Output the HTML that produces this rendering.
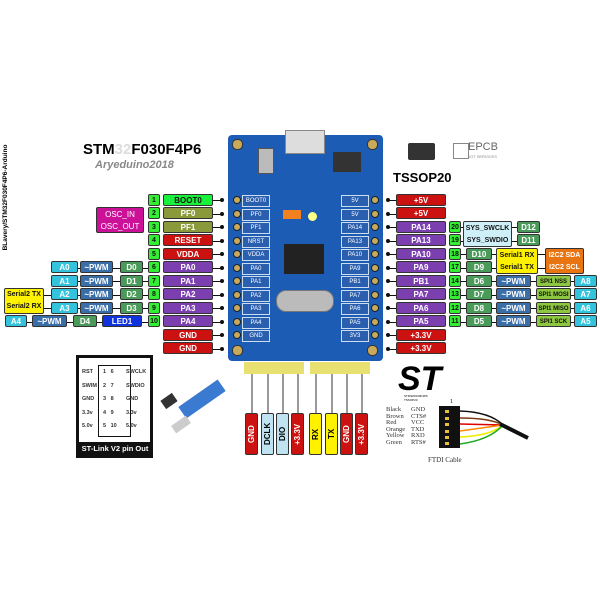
<!DOCTYPE html>
<html><head><style>
body{margin:0;background:#fff}
#c{position:relative;width:600px;height:600px;overflow:hidden;font-family:"Liberation Sans",sans-serif}
.b{position:absolute;z-index:2;height:12px;line-height:12px;font-size:8px;font-weight:bold;text-align:center;color:#fff;border:1px solid #333;border-radius:2px;box-sizing:border-box;white-space:nowrap}
.n{background:#33ee33;color:#111;width:12px;font-size:7px}
.l{left:163px;width:50px}
.r{left:396px;width:50px}
.g{background:#19f03c;color:#111}.o{background:#8a9a3a}.rd{background:#cc1111}.p{background:#7b3fb0}
.a{background:#33c3dd}.pw{background:#3a6ea8}.d{background:#4a9a5a}.sp{background:#8dc63f;color:#111}
.dot{position:absolute;z-index:3;width:4px;height:4px;border-radius:2px;background:#111}
.ln{position:absolute;z-index:1;height:1px;background:#111}
.h{position:absolute;width:9px;height:9px;border-radius:5px;background:#c9a95a;border:1px solid #333}
.hc{position:absolute;width:6px;height:6px;border-radius:4px;background:#c9a95a;border:1px solid #123}
.v{position:absolute;width:13px;height:42px;border:1px solid #333;box-sizing:border-box;border-radius:2px;font-size:8px;font-weight:bold;writing-mode:vertical-rl;transform:rotate(180deg);text-align:center;line-height:11px}
.pin{position:absolute;width:2px;background:#999}
.sm{position:absolute;font-size:6px;color:#fff;background:#2a5fb0;border:1px solid #cde;width:26px;height:10px;line-height:10px;text-align:center}
</style></head><body><div id="c">

<div style="position:absolute;left:83px;top:141px;font-size:15px;font-weight:bold">STM<span style="color:#ddd">32</span>F030F4P6</div>
<div style="position:absolute;left:95px;top:159px;font-size:11px;font-weight:bold;color:#888;font-style:italic">Aryeduino2018</div>
<div style="position:absolute;left:-62px;top:194px;width:135px;font-size:6.5px;font-weight:bold;transform:rotate(-90deg);text-align:center">BLavery/STM32F030F4P6-Arduino</div>

<div style="position:absolute;left:228px;top:135px;width:155px;height:226px;background:#1d5cb5;border-radius:4px"></div>
<div style="position:absolute;left:285px;top:130px;width:38px;height:22px;background:#ddd;border:1px solid #888"></div>
<div style="position:absolute;left:258px;top:148px;width:14px;height:24px;background:#bbb;border:1px solid #555"></div>
<div style="position:absolute;left:333px;top:152px;width:28px;height:20px;background:#333"></div>
<div style="position:absolute;left:284px;top:244px;width:40px;height:30px;background:#222"></div>
<div style="position:absolute;left:276px;top:290px;width:56px;height:20px;background:#bbb;border-radius:10px;border:1px solid #777"></div>
<div style="position:absolute;left:283px;top:210px;width:18px;height:9px;background:#f08020"></div>
<div style="position:absolute;left:308px;top:212px;width:9px;height:9px;background:#ff8;border-radius:5px"></div>
<div class="h" style="left:232px;top:139px"></div><div class="h" style="left:367px;top:139px"></div>
<div class="h" style="left:232px;top:345px"></div><div class="h" style="left:367px;top:345px"></div>
<div class="hc" style="left:233px;top:196px"></div><div class="hc" style="left:233px;top:210px"></div><div class="hc" style="left:233px;top:223px"></div><div class="hc" style="left:233px;top:237px"></div><div class="hc" style="left:233px;top:250px"></div><div class="hc" style="left:233px;top:264px"></div><div class="hc" style="left:233px;top:277px"></div><div class="hc" style="left:233px;top:291px"></div><div class="hc" style="left:233px;top:304px"></div><div class="hc" style="left:233px;top:318px"></div><div class="hc" style="left:233px;top:331px"></div>
<div class="hc" style="left:371px;top:196px"></div><div class="hc" style="left:371px;top:210px"></div><div class="hc" style="left:371px;top:223px"></div><div class="hc" style="left:371px;top:237px"></div><div class="hc" style="left:371px;top:250px"></div><div class="hc" style="left:371px;top:264px"></div><div class="hc" style="left:371px;top:277px"></div><div class="hc" style="left:371px;top:291px"></div><div class="hc" style="left:371px;top:304px"></div><div class="hc" style="left:371px;top:318px"></div><div class="hc" style="left:371px;top:331px"></div>

<div class="sm" style="left:242px;top:195px">BOOT0</div><div class="sm" style="left:242px;top:209px">PF0</div><div class="sm" style="left:242px;top:222px">PF1</div><div class="sm" style="left:242px;top:236px">NRST</div><div class="sm" style="left:242px;top:249px">VDDA</div><div class="sm" style="left:242px;top:263px">PA0</div><div class="sm" style="left:242px;top:276px">PA1</div><div class="sm" style="left:242px;top:290px">PA2</div><div class="sm" style="left:242px;top:303px">PA3</div><div class="sm" style="left:242px;top:317px">PA4</div><div class="sm" style="left:242px;top:330px">GND</div>
<div class="sm" style="left:341px;top:195px">5V</div><div class="sm" style="left:341px;top:209px">5V</div><div class="sm" style="left:341px;top:222px">PA14</div><div class="sm" style="left:341px;top:236px">PA13</div><div class="sm" style="left:341px;top:249px">PA10</div><div class="sm" style="left:341px;top:263px">PA9</div><div class="sm" style="left:341px;top:276px">PB1</div><div class="sm" style="left:341px;top:290px">PA7</div><div class="sm" style="left:341px;top:303px">PA6</div><div class="sm" style="left:341px;top:317px">PA5</div><div class="sm" style="left:341px;top:330px">3V3</div>

<div class="b n" style="left:148px;top:194px">1</div><div class="b l g" style="top:194px">BOOT0</div>
<div class="b n" style="left:148px;top:207px">2</div><div class="b l o" style="top:207px">PF0</div>
<div class="b n" style="left:148px;top:221px">3</div><div class="b l o" style="top:221px">PF1</div>
<div class="b n" style="left:148px;top:234px">4</div><div class="b l rd" style="top:234px">RESET</div>
<div class="b n" style="left:148px;top:248px">5</div><div class="b l rd" style="top:248px">VDDA</div>
<div class="b n" style="left:148px;top:261px">6</div><div class="b l p" style="top:261px">PA0</div>
<div class="b n" style="left:148px;top:275px">7</div><div class="b l p" style="top:275px">PA1</div>
<div class="b n" style="left:148px;top:288px">8</div><div class="b l p" style="top:288px">PA2</div>
<div class="b n" style="left:148px;top:302px">9</div><div class="b l p" style="top:302px">PA3</div>
<div class="b n" style="left:148px;top:315px">10</div><div class="b l p" style="top:315px">PA4</div>
<div class="b l rd" style="top:329px">GND</div><div class="b l rd" style="top:342px">GND</div>
<div class="ln" style="left:213px;top:200px;width:9px"></div><div class="ln" style="left:213px;top:214px;width:9px"></div><div class="ln" style="left:213px;top:227px;width:9px"></div><div class="ln" style="left:213px;top:241px;width:9px"></div><div class="ln" style="left:213px;top:254px;width:9px"></div><div class="ln" style="left:213px;top:268px;width:9px"></div><div class="ln" style="left:213px;top:281px;width:9px"></div><div class="ln" style="left:213px;top:295px;width:9px"></div><div class="ln" style="left:213px;top:308px;width:9px"></div><div class="ln" style="left:213px;top:322px;width:9px"></div><div class="ln" style="left:213px;top:335px;width:9px"></div><div class="ln" style="left:213px;top:349px;width:9px"></div>
<div class="dot" style="left:220px;top:198px"></div><div class="dot" style="left:220px;top:212px"></div><div class="dot" style="left:220px;top:225px"></div><div class="dot" style="left:220px;top:239px"></div><div class="dot" style="left:220px;top:252px"></div><div class="dot" style="left:220px;top:266px"></div><div class="dot" style="left:220px;top:279px"></div><div class="dot" style="left:220px;top:293px"></div><div class="dot" style="left:220px;top:306px"></div><div class="dot" style="left:220px;top:320px"></div><div class="dot" style="left:220px;top:333px"></div><div class="dot" style="left:220px;top:347px"></div>

<div class="b" style="left:96px;top:207px;width:48px;height:26px;line-height:12px;background:#cc1199;font-weight:normal;padding-top:1px">OSC_IN<br>OSC_OUT</div>
<div class="b a" style="left:51px;top:261px;width:27px">A0</div><div class="b pw" style="left:80px;top:261px;width:33px">~PWM</div><div class="b d" style="left:120px;top:261px;width:23px">D0</div>
<div class="b a" style="left:51px;top:275px;width:27px">A1</div><div class="b pw" style="left:80px;top:275px;width:33px">~PWM</div><div class="b d" style="left:120px;top:275px;width:23px">D1</div>
<div class="b a" style="left:51px;top:288px;width:27px">A2</div><div class="b pw" style="left:80px;top:288px;width:33px">~PWM</div><div class="b d" style="left:120px;top:288px;width:23px">D2</div>
<div class="b a" style="left:51px;top:302px;width:27px">A3</div><div class="b pw" style="left:80px;top:302px;width:33px">~PWM</div><div class="b d" style="left:120px;top:302px;width:23px">D3</div>
<div class="b" style="left:4px;top:288px;width:40px;height:26px;line-height:12px;background:#fff200;color:#111;font-size:7px">Serial2 TX<br>Serial2 RX</div>
<div class="b a" style="left:5px;top:315px;width:22px">A4</div><div class="b pw" style="left:32px;top:315px;width:35px">~PWM</div><div class="b d" style="left:73px;top:315px;width:24px">D4</div><div class="b" style="left:102px;top:315px;width:40px;background:#1133dd">LED1</div>
<div class="ln" style="left:60px;top:268px;width:88px"></div><div class="ln" style="left:60px;top:281px;width:88px"></div><div class="ln" style="left:40px;top:295px;width:108px"></div><div class="ln" style="left:40px;top:308px;width:108px"></div>
<div class="ln" style="left:20px;top:322px;width:128px"></div>

<div class="b r rd" style="top:194px">+5V</div><div class="b r rd" style="top:207px">+5V</div>
<div class="b r p" style="top:221px">PA14</div><div class="b r p" style="top:234px">PA13</div><div class="b r p" style="top:248px">PA10</div><div class="b r p" style="top:261px">PA9</div>
<div class="b r p" style="top:275px">PB1</div><div class="b r p" style="top:288px">PA7</div><div class="b r p" style="top:302px">PA6</div><div class="b r p" style="top:315px">PA5</div>
<div class="b r rd" style="top:329px">+3.3V</div><div class="b r rd" style="top:342px">+3.3V</div>
<div class="b n" style="left:449px;top:221px">20</div><div class="b n" style="left:449px;top:234px">19</div><div class="b n" style="left:449px;top:248px">18</div><div class="b n" style="left:449px;top:261px">17</div><div class="b n" style="left:449px;top:275px">14</div><div class="b n" style="left:449px;top:288px">13</div><div class="b n" style="left:449px;top:302px">12</div><div class="b n" style="left:449px;top:315px">11</div>
<div class="ln" style="left:388px;top:200px;width:8px"></div><div class="ln" style="left:388px;top:214px;width:8px"></div><div class="ln" style="left:388px;top:227px;width:8px"></div><div class="ln" style="left:388px;top:241px;width:8px"></div><div class="ln" style="left:388px;top:254px;width:8px"></div><div class="ln" style="left:388px;top:268px;width:8px"></div><div class="ln" style="left:388px;top:281px;width:8px"></div><div class="ln" style="left:388px;top:295px;width:8px"></div><div class="ln" style="left:388px;top:308px;width:8px"></div><div class="ln" style="left:388px;top:322px;width:8px"></div><div class="ln" style="left:388px;top:335px;width:8px"></div><div class="ln" style="left:388px;top:349px;width:8px"></div>
<div class="dot" style="left:386px;top:198px"></div><div class="dot" style="left:386px;top:212px"></div><div class="dot" style="left:386px;top:225px"></div><div class="dot" style="left:386px;top:239px"></div><div class="dot" style="left:386px;top:252px"></div><div class="dot" style="left:386px;top:266px"></div><div class="dot" style="left:386px;top:279px"></div><div class="dot" style="left:386px;top:293px"></div><div class="dot" style="left:386px;top:306px"></div><div class="dot" style="left:386px;top:320px"></div><div class="dot" style="left:386px;top:333px"></div><div class="dot" style="left:386px;top:347px"></div>
<div class="ln" style="left:460px;top:227px;width:60px"></div><div class="ln" style="left:460px;top:241px;width:60px"></div>
<div class="ln" style="left:460px;top:254px;width:90px"></div><div class="ln" style="left:460px;top:268px;width:90px"></div>
<div class="ln" style="left:460px;top:281px;width:120px"></div><div class="ln" style="left:460px;top:295px;width:120px"></div><div class="ln" style="left:460px;top:308px;width:120px"></div><div class="ln" style="left:460px;top:322px;width:120px"></div>

<div class="b" style="left:463px;top:221px;width:49px;height:26px;line-height:12px;background:#cfeff8;color:#111;font-size:7px;padding-top:1px">SYS_SWCLK<br>SYS_SWDIO</div>
<div class="b d" style="left:517px;top:221px;width:23px">D12</div><div class="b d" style="left:517px;top:234px;width:23px">D11</div>
<div class="b d" style="left:466px;top:248px;width:26px">D10</div><div class="b d" style="left:466px;top:261px;width:26px">D9</div>
<div class="b" style="left:496px;top:248px;width:42px;height:26px;line-height:12px;background:#fff200;color:#111;font-size:7px;padding-top:1px">Serial1 RX<br>Serial1 TX</div>
<div class="b" style="left:545px;top:248px;width:39px;height:26px;line-height:12px;background:#e87511;font-size:7px;padding-top:1px">I2C2 SDA<br>I2C2 SCL</div>
<div class="b d" style="left:466px;top:275px;width:26px">D6</div><div class="b pw" style="left:496px;top:275px;width:35px">~PWM</div><div class="b sp" style="left:536px;top:275px;width:35px;font-size:6px">SPI1 NSS</div><div class="b a" style="left:574px;top:275px;width:23px">A8</div>
<div class="b d" style="left:466px;top:288px;width:26px">D7</div><div class="b pw" style="left:496px;top:288px;width:35px">~PWM</div><div class="b sp" style="left:536px;top:288px;width:35px;font-size:6px">SPI1 MOSI</div><div class="b a" style="left:574px;top:288px;width:23px">A7</div>
<div class="b d" style="left:466px;top:302px;width:26px">D8</div><div class="b pw" style="left:496px;top:302px;width:35px">~PWM</div><div class="b sp" style="left:536px;top:302px;width:35px;font-size:6px">SPI1 MISO</div><div class="b a" style="left:574px;top:302px;width:23px">A6</div>
<div class="b d" style="left:466px;top:315px;width:26px">D5</div><div class="b pw" style="left:496px;top:315px;width:35px">~PWM</div><div class="b sp" style="left:536px;top:315px;width:35px;font-size:6px">SPI1 SCK</div><div class="b a" style="left:574px;top:315px;width:23px">A5</div>

<div style="position:absolute;left:408px;top:143px;width:27px;height:17px;background:#333;border-radius:2px"></div>
<div style="position:absolute;left:393px;top:170px;font-size:13px;font-weight:bold">TSSOP20</div>
<div style="position:absolute;left:453px;top:143px;width:14px;height:14px;border:1px solid #888"></div>
<div style="position:absolute;left:468px;top:141px;font-size:11px;color:#666">EPCB</div>
<div style="position:absolute;left:469px;top:154px;font-size:4px;color:#888">IOT SERVICES</div>

<div style="position:absolute;left:244px;top:362px;width:60px;height:12px;background:#e8e070"></div>
<div style="position:absolute;left:310px;top:362px;width:60px;height:12px;background:#e8e070"></div>
<div class="pin" style="left:251px;top:374px;height:40px"></div><div class="pin" style="left:267px;top:374px;height:40px"></div><div class="pin" style="left:282px;top:374px;height:40px"></div><div class="pin" style="left:297px;top:374px;height:40px"></div>
<div class="pin" style="left:315px;top:374px;height:40px"></div><div class="pin" style="left:331px;top:374px;height:40px"></div><div class="pin" style="left:346px;top:374px;height:40px"></div><div class="pin" style="left:361px;top:374px;height:40px"></div>
<div class="v" style="left:245px;top:413px;background:#cc1111;color:#fff">GND</div>
<div class="v" style="left:261px;top:413px;background:#bfe3f0">DCLK</div>
<div class="v" style="left:276px;top:413px;background:#bfe3f0">DIO</div>
<div class="v" style="left:291px;top:413px;background:#cc1111;color:#fff">+3.3V</div>
<div class="v" style="left:309px;top:413px;background:#fff200">RX</div>
<div class="v" style="left:325px;top:413px;background:#fff200">TX</div>
<div class="v" style="left:340px;top:413px;background:#cc1111;color:#fff">GND</div>
<div class="v" style="left:355px;top:413px;background:#cc1111;color:#fff">+3.3V</div>

<div style="position:absolute;left:76px;top:355px;width:77px;height:103px;background:#111"></div>
<div style="position:absolute;left:79px;top:358px;width:71px;height:84px;background:#fff"></div>
<div style="position:absolute;left:98px;top:365px;width:33px;height:72px;border:1px solid #111;box-sizing:border-box"></div>
<div style="position:absolute;left:82px;top:366px;font-size:5.5px;line-height:13.5px;font-weight:bold;color:#333">RST<br>SWIM<br>GND<br>3.3v<br>5.0v</div>
<div style="position:absolute;left:103px;top:366px;font-size:5.5px;line-height:13.5px;font-weight:bold;color:#333;word-spacing:3px">1 6<br>2 7<br>3 8<br>4 9<br>5 10</div>
<div style="position:absolute;left:126px;top:366px;font-size:5.5px;line-height:13.5px;font-weight:bold;color:#333">SWCLK<br>SWDIO<br>GND<br>3.3v<br>5.0v</div>
<div style="position:absolute;left:78px;top:444px;width:74px;font-size:7.5px;font-weight:bold;color:#fff;text-align:center">ST-Link V2 pin Out</div>
<div style="position:absolute;left:178px;top:392px;width:48px;height:14px;background:#3a7ad0;transform:rotate(-35deg)"></div>
<div style="position:absolute;left:172px;top:420px;width:18px;height:9px;background:#ccc;transform:rotate(-35deg)"></div>
<div style="position:absolute;left:162px;top:396px;width:14px;height:10px;background:#333;transform:rotate(-35deg)"></div>

<div style="position:absolute;left:398px;top:362px;font-size:34px;font-weight:bold;font-style:italic;color:#000;line-height:34px">ST</div>
<div style="position:absolute;left:404px;top:394px;font-size:3px">STM32F030F4P6<br>TSSOP20</div>
<div style="position:absolute;left:450px;top:399px;font-size:6px;font-family:'Liberation Serif',serif">1</div>
<div style="position:absolute;left:386px;top:407px;font-size:6.5px;line-height:6.6px;font-family:'Liberation Serif',serif;color:#333">Black<br>Brown<br>Red<br>Orange<br>Yellow<br>Green</div>
<div style="position:absolute;left:411px;top:407px;font-size:6.5px;line-height:6.6px;font-family:'Liberation Serif',serif;color:#333">GND<br>CTS#<br>VCC<br>TXD<br>RXD<br>RTS#</div>
<div style="position:absolute;left:439px;top:406px;width:21px;height:42px;background:#111"></div>
<svg style="position:absolute;left:0;top:0" width="600" height="600">
<g fill="#e8c040"><rect x="445" y="410" width="4" height="3"/><rect x="445" y="417" width="4" height="3"/><rect x="445" y="423" width="4" height="3"/><rect x="445" y="430" width="4" height="3"/><rect x="445" y="436" width="4" height="3"/><rect x="445" y="442" width="4" height="3"/></g>
<g fill="none" stroke-width="1.5"><path d="M460 411 Q490 412 503 425" stroke="#111"/><path d="M460 418 Q490 418 503 425" stroke="#7a3a10"/><path d="M460 424 L503 425" stroke="#d00"/><path d="M460 431 L503 425" stroke="#f80"/><path d="M460 437 Q490 436 503 425" stroke="#ee0"/><path d="M460 444 Q490 440 503 425" stroke="#2a2"/></g>
<path d="M500 424 L528 438" stroke="#111" stroke-width="4"/>
</svg>
<div style="position:absolute;left:428px;top:456px;font-size:7px;font-family:'Liberation Serif',serif;color:#333">FTDI Cable</div>
</div></body></html>
